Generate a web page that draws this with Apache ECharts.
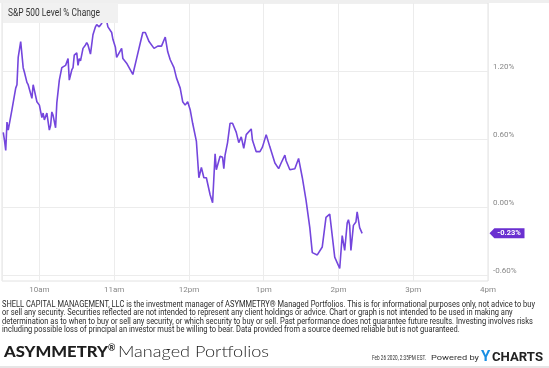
<!DOCTYPE html>
<html>
<head>
<meta charset="utf-8">
<script src="https://cdn.jsdelivr.net/npm/echarts@6/dist/echarts.min.js"></script>
<style>html,body{margin:0;padding:0;background:#fff;}#c{width:549px;height:368px;}</style>
</head>
<body>
<div id="c"></div>
<script>
// ---- data ----
const tradeDate = [2020, 1, 26];
const sessionStart = '09:30';
const sessionEnd = '16:00';
const times = ['09:31','09:32','09:33','09:34','09:35','09:38','09:41','09:42','09:43','09:45','09:47','09:48','09:50','09:51','09:54','09:55','09:56','09:58',
'10:00','10:02','10:03','10:04','10:06','10:08','10:09','10:10','10:11','10:13','10:14','10:16','10:18','10:19','10:21','10:23','10:24','10:26','10:27','10:28',
'10:30','10:31','10:32','10:33','10:35','10:37','10:38','10:39','10:41','10:43','10:45','10:46','10:48','10:50','10:51','10:54','10:55','10:58','10:59',
'11:01','11:02','11:04','11:06','11:07','11:10','11:13','11:15','11:18','11:21','11:23','11:25','11:28','11:32','11:35','11:38','11:39','11:41','11:43','11:45','11:48','11:50','11:53','11:55','11:57','11:59',
'12:01','12:03','12:06','12:08','12:10','12:12','12:14','12:17','12:19','12:21','12:22','12:25','12:27','12:28','12:29','12:31','12:33','12:35','12:38','12:40','12:42','12:44','12:46','12:47','12:50','12:51','12:54','12:57','12:59',
'13:02','13:05','13:09','13:12','13:14','13:17','13:18','13:21','13:25','13:28','13:31','13:34','13:37','13:39','13:43','13:47','13:50','13:53','13:57',
'14:01','14:03','14:05','14:07','14:08','14:09','14:10','14:12','14:14','14:15','14:17','14:19'];
const pctChange = [0.66,0.59,0.50,0.75,0.68,0.86,1.05,1.08,1.32,1.46,1.23,1.19,1.10,1.08,0.96,1.08,1.09,0.93,
0.90,0.79,0.83,0.77,0.83,0.68,0.72,0.84,0.81,0.70,0.92,1.12,1.23,1.24,1.25,1.31,1.12,1.21,1.23,1.34,
1.36,1.25,1.31,1.29,1.40,1.43,1.45,1.43,1.35,1.52,1.59,1.61,1.59,1.62,1.68,1.64,1.59,1.54,1.48,
1.41,1.32,1.36,1.40,1.31,1.27,1.21,1.17,1.31,1.45,1.54,1.54,1.46,1.40,1.42,1.42,1.41,1.50,1.37,1.30,1.23,1.14,1.05,0.93,0.90,0.93,
0.86,0.74,0.58,0.26,0.35,0.26,0.26,0.11,0.04,0.47,0.33,0.45,0.44,0.34,0.46,0.57,0.74,0.74,0.66,0.57,0.62,0.52,0.64,0.64,0.69,0.59,0.49,0.49,0.53,
0.64,0.53,0.39,0.34,0.39,0.46,0.41,0.33,0.34,0.43,0.26,0.06,-0.18,-0.40,-0.42,-0.35,-0.09,-0.06,-0.44,
-0.54,-0.25,-0.38,-0.14,-0.11,-0.16,-0.38,-0.16,-0.13,-0.04,-0.18,-0.23];
const yTicks = [-0.6, 0, 0.6, 1.2];
const yMin = -0.65, yMax = 1.8;
const titleText = 'S&P 500 Level % Change';
const disclaimer = [
 'SHELL CAPITAL MANAGEMENT, LLC is the investment manager of ASYMMETRY\u00ae Managed Portfolios. This is for informational purposes only, not advice to buy',
 'or sell any security. Securities reflected are not intended to represent any client holdings or advice. Chart or graph is not intended to be used in making any',
 'determination as to when to buy or sell any security, or which security to buy or sell. Past performance does not guarantee future results. Investing involves risks',
 'including possible loss of principal an investor must be willing to bear. Data provided from a source deemed reliable but is not guaranteed.'
];
const stampText = 'Feb 26 2020, 2:35PM EST.';

// ---- helpers ----
function ts(hm){ const p = hm.split(':'); return new Date(tradeDate[0], tradeDate[1], tradeDate[2], +p[0], +p[1]).getTime(); }
const seriesData = times.map((t, i) => [ts(t), pctChange[i]]);
const lastVal = pctChange[pctChange.length - 1];
const xMax = ts(sessionEnd);

const mctx = document.createElement('canvas').getContext('2d');
function fitScale(text, font, target){ mctx.font = font; return target / mctx.measureText(text).width; }
const discFont = '8.5px Roboto';
const discScale = fitScale(disclaimer[0], discFont, 533);
const titleFont = '10px Roboto';
const titleScale = fitScale(titleText, titleFont, 92);

const chart = echarts.init(document.getElementById('c'), null, {renderer: 'canvas'});
const graphics = [
  {type:'rect', left:0, top:0, shape:{width:549, height:3}, style:{fill:'#efefef'}, silent:true},
  {type:'rect', left:0, top:366, shape:{width:549, height:2}, style:{fill:'#e6e6e6'}, silent:true},
  {type:'rect', left:3, top:3, shape:{width:115, height:20}, style:{fill:'#f1f1f1'}, z:10},
  {type:'text', x:8, y:13, scaleX:titleScale, z:11, style:{text:titleText, font:titleFont, fill:'#333', textVerticalAlign:'middle'}},
];
const lineY = [305, 313.3, 321.7, 330];
disclaimer.forEach((t, i) => graphics.push({type:'text', x:2, y:lineY[i], scaleX:discScale,
  style:{text:t, font:discFont, fill:'#2b2b2b', textVerticalAlign:'middle'}}));
graphics.push(
  {type:'text', x:4, y:352, scaleX:fitScale('ASYMMETRY', 'bold 15px Lato', 103), style:{text:'ASYMMETRY', font:'900 15px Lato', fill:'#1e1e1e', textVerticalAlign:'middle'}},
  {type:'text', x:108, y:348, style:{text:'\u00ae', font:'bold 9px Lato', fill:'#1e1e1e', textVerticalAlign:'middle'}},
  {type:'text', x:118, y:352, scaleX:fitScale('Managed Portfolios', '300 16px Lato', 151), style:{text:'Managed Portfolios', font:'300 16px Lato', fill:'#1e1e1e', textVerticalAlign:'middle'}},
  {type:'text', x:372, y:358, scaleX:fitScale(stampText, '7px Roboto', 54), style:{text:stampText, font:'7px Roboto', fill:'#333', textVerticalAlign:'middle'}},
  {type:'text', x:431, y:358, scaleX:fitScale('Powered by', '7px Roboto', 48), style:{text:'Powered by', font:'7px Roboto', fill:'#333', textVerticalAlign:'middle'}},
  {type:'text', x:481, y:357, style:{text:'Y', font:'bold 15px Roboto', fill:'#1a8fe3', textVerticalAlign:'middle'}},
  {type:'text', x:492, y:358, scaleX:fitScale('CHARTS', 'bold 12px Roboto', 51), style:{text:'CHARTS', font:'bold 12px Roboto', fill:'#222', textVerticalAlign:'middle'}}
);

chart.setOption({
  animation: false,
  backgroundColor: '#fff',
  grid: {left: 2, right: 61, top: 3, bottom: 87, show: true, borderColor: '#e2e2e2', borderWidth: 1, backgroundColor: 'transparent'},
  xAxis: {
    type: 'time', min: ts(sessionStart), max: xMax,
    minInterval: 3600000, maxInterval: 3600000,
    axisLine: {show: false}, axisTick: {show: false},
    splitLine: {show: true, lineStyle: {color: '#ececec', width: 1}},
    axisLabel: {
      color: '#888', fontSize: 8, fontFamily: 'Roboto', margin: 5,
      showMinLabel: false, showMaxLabel: true, hideOverlap: false,
      formatter: function(v){ const d = new Date(v); if (d.getMinutes() !== 0) return ''; const h = d.getHours(); return (h % 12 || 12) + (h < 12 ? 'am' : 'pm'); }
    }
  },
  yAxis: {
    type: 'value', position: 'right', min: yMin, max: yMax,
    axisLine: {show: false},
    axisTick: {show: false, customValues: yTicks},
    splitLine: {show: true, lineStyle: {color: '#ececec', width: 1}},
    axisLabel: {customValues: yTicks, color: '#888', fontSize: 8, fontFamily: 'Roboto', margin: 5, verticalAlign: 'bottom',
      formatter: v => v.toFixed(2) + '%'}
  },
  graphic: graphics,
  series: [{
    type: 'line', data: seriesData, showSymbol: false, symbol: 'none',
    lineStyle: {color: '#7446dd', width: 1.6},
    itemStyle: {color: '#7446dd'},
    markPoint: {
      symbol: 'path://M0,5L5,0L36,0L36,10L5,10Z', symbolSize: [35, 10], symbolOffset: [19, 0],
      itemStyle: {color: '#6a2fd0'},
      label: {show: true, position: 'inside', offset: [2, 0], color: '#fff', fontSize: 7.5, fontWeight: 'bold', fontFamily: 'Roboto',
        formatter: () => lastVal.toFixed(2) + '%'},
      data: [{coord: [xMax, lastVal]}]
    }
  }]
});
</script>
</body>
</html>
